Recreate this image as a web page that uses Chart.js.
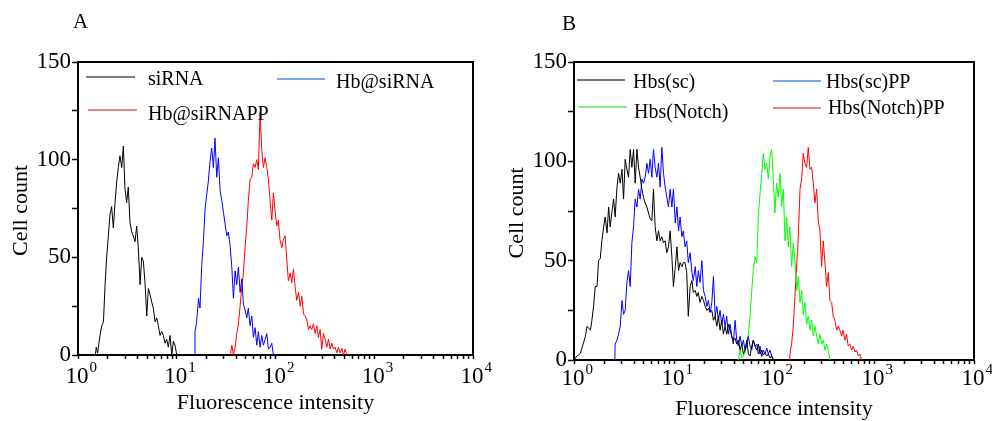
<!DOCTYPE html>
<html>
<head>
<meta charset="utf-8">
<script src="https://cdn.jsdelivr.net/npm/chart.js@4.4.0/dist/chart.umd.min.js"></script>
<style>
  body { margin: 0; background: #fff; }
  #wrap { position: relative; width: 992px; height: 421px; }
  .panel { position: absolute; top: 0; width: 496px; height: 421px; }
</style>
</head>
<body>
<div id="wrap">
  <div class="panel" style="left:0"><canvas id="chartA" width="496" height="421"></canvas></div>
  <div class="panel" style="left:496px"><canvas id="chartB" width="496" height="421"></canvas></div>
</div>
<script>
// axis text
var xTitle = "Fluorescence intensity";
var yTitle = "Cell count";
var decadeExp = ["0", "1", "2", "3", "4"];   // x tick labels: 10^0 .. 10^4

// ---- panel A ----
var aSiRNA_x = [1.50,1.53,1.58,1.67,1.74,1.81,1.88,1.95,2.03,2.11,2.19,2.28,2.37,2.47,2.56,2.66,2.77,2.88,2.99,3.11,3.23,3.36,3.50,3.63,3.78,3.93,4.08,4.25,4.42,4.59,4.77,4.97,5.16,5.36,5.58,5.79,6.03,6.27,6.51,6.77,7.05,7.32,7.61,7.92,8.22,8.55,8.90,9.24,9.61,10.0];
var aSiRNA_y = [0,4,1,10,15,17,36,50,61,72,76,65,78,89,96,102,96,107,85,78,86,68,63,61,58,66,55,36,50,48,37,20,34,31,27,24,17,19,15,10,12,10,6,8,4,10,0,7,5,0];

var aHb_x = [15.2,15.3,15.9,16.6,17.2,17.9,18.6,19.4,20.1,20.9,21.7,22.6,23.5,24.4,25.4,26.4,27.5,28.6,29.7,30.9,32.1,33.3,34.7,36.1,37.5,39.0,40.5,42.1,43.8,45.6,47.3,49.2,51.2,53.1,55.3,57.5,59.7,62.1,64.6,67.1,69.8,72.6,75.4,78.5,81.6,84.8,88.2,91.7,95.2];
var aHb_y = [0,12,17,29,24,46,58,75,82,89,99,106,96,111,91,101,84,79,73,67,61,63,56,45,29,43,36,45,32,39,26,23,19,24,15,20,9,14,5,12,4,10,5,8,11,3,4,6,0];

var aHbPP_x = [35.0,36.1,37.5,39.0,40.5,42.1,43.8,45.6,47.3,49.2,51.2,53.1,55.3,57.5,59.7,62.1,64.6,67.1,69.8,72.6,75.4,78.5,81.6,84.8,88.2,91.7,95.2,99,103,107,111,116,120,125,130,135,141,146,152,158,164,171,178,185,192,200,208,216,224,233,242,252,262,272,283,294,306,318,331,344,358,372,386,402,418,434,451,470,488,507,528];
var aHbPP_y = [0,5,0,4,11,16,25,35,42,55,66,79,90,91,98,96,100,95,124,105,96,101,96,90,79,69,83,74,66,69,59,55,59,61,49,38,42,37,44,35,28,32,25,30,21,20,18,13,15,13,16,11,15,9,13,3,11,8,4,8,3,6,3,4,1,4,1,3.5,0,3,0];

// ---- panel B ----
var bSc_x = [1.00,1.03,1.07,1.11,1.16,1.20,1.25,1.30,1.35,1.40,1.46,1.51,1.57,1.63,1.70,1.76,1.83,1.90,1.98,2.05,2.14,2.22,2.30,2.40,2.49,2.58,2.69,2.79,2.90,3.02,3.13,3.25,3.38,3.51,3.65,3.79,3.94,4.09,4.26,4.42,4.59,4.78,4.95,5.15,5.36,5.56,5.78,6.01,6.23,6.48,6.74,7.00,7.27,7.56,7.85,8.16,8.48,8.80,9.15,9.52,9.87,10.3,10.7,11.1,11.5,12.0,12.4,12.9,13.4,13.9,14.5,15.1,15.6,16.3,16.9,17.5,18.2,19.0,19.7,20.5,21.3,22.1,23.0,23.9,24.8,25.8,26.8,27.8,28.9,30.0,31.2,32.4,33.7,35.0,36.4,37.8,39.2,40.8,42.4,44.0,45.8,47.6,49.4,51.3,53.4,55.4,57.6,59.9,62.1,64.6,67.2,69.7,72.5,75.4,78.2,81.3,84.6,87.7,91.2,94.8,98.4];
var bSc_y = [0,1,2,2.5,3.4,6,9,12,17,16,15,20,27,37,37,50,51,60,67,72,64,77,67,75,81,72,87,94,89,96,81,101,96,92,106,97,106,89,106,97,92,86,82,79,77,74,71,70,86,67,60,65,60,62,59,60,54,57,65,52,37,47,57,45,49,47,49,49,44,22,37,40,34,35,32,34,29,32,30,27,25,26,24,25,20,22,17,22,15,20,13,17,13,18,15,12,10,11,8,10,5,8,3,5,10,3,2,7,10,7,5,8,3,5,2.5,3.4,2,3,1,2,0];

var bScPP_x = [2.56,2.58,2.69,2.79,2.90,3.02,3.13,3.25,3.38,3.51,3.65,3.79,3.94,4.09,4.26,4.42,4.59,4.78,4.95,5.15,5.36,5.56,5.78,6.01,6.23,6.48,6.74,7.00,7.27,7.56,7.85,8.16,8.48,8.80,9.15,9.52,9.87,10.3,10.7,11.1,11.5,12.0,12.4,12.9,13.4,13.9,14.5,15.1,15.6,16.3,16.9,17.5,18.2,19.0,19.7,20.5,21.3,22.1,23.0,23.9,24.8,25.8,26.8,27.8,28.9,30.0,31.2,32.4,33.7,35.0,36.4,37.8,39.2,40.8,42.4,44.0,45.8,47.6,49.4,51.3,53.4,55.4,57.6,59.9,62.1,64.6,67.2,69.7,72.5,75.4,78.2,81.3,84.6,87.7,91.2,94.8,98.4];
var bScPP_y = [0,8,10,13,17,30,23,25,39,45,37,59,67,81,77,86,81,91,89,92,99,94,101,92,106,97,92,99,87,107,94,87,82,77,86,77,86,69,77,65,72,62,65,57,60,49,54,44,40,47,37,45,39,50,35,32,27,30,24,29,42,22,27,20,25,18,23,17,22,13,18,12,8,20,10,7,12,7,10,5,8,12,7,5,10,7,8,3,7,1.7,5,3,6,3,5,2,0];

var bNotch_x = [44.0,45.8,47.6,49.4,51.3,53.4,55.4,57.6,59.9,62.1,64.6,67.2,69.7,72.5,75.4,78.2,81.3,84.6,87.7,91.2,94.8,98.4,102,106,110,115,119,124,129,134,139,144,150,156,162,169,175,182,189,196,204,212,220,229,238,247,257,267,277,288,299,311,323,336,349,362];
var bNotch_y = [0,5,1,2,4,7,13,22,35,45,52,49,72,84,94,104,96,99,91,102,106,91,74,89,82,94,77,86,60,72,57,67,47,59,50,35,42,29,35,23,29,18,22,15,20,12,17,12,8,13,8,10,5,8,5,0];

var bNotchPP_x = [143,146,150,156,162,169,172,175,182,189,196,204,212,220,229,238,247,257,267,277,288,299,311,323,336,349,362,377,391,406,423,439,456,474,492,511,532,552,574,597,620,644,670,695,722,751];
var bNotchPP_y = [0,5,8,17,32,49,54,62,86,91,104,99,97,107,96,97,89,79,86,70,65,47,60,49,37,44,30,29,22,20,15,17,15,12,15,10,13,7,8,5,7,4,5,2,3,0];

var serif = '"Liberation Serif", "Times New Roman", serif';

function pts(xs, ys) {
  return xs.map(function (x, i) { return { x: x, y: ys[i] }; });
}

function series(label, xs, ys, color) {
  return {
    label: label,
    data: pts(xs, ys),
    borderColor: color,
    borderWidth: 1,
    pointRadius: 0,
    tension: 0,
    fill: false
  };
}

// frame, x decade labels, titles, panel letter and legend
var panelDecor = {
  id: 'panelDecor',
  afterDraw: function (chart, args, o) {
    var ctx = chart.ctx, a = chart.chartArea, xs = chart.scales.x;
    ctx.save();
    ctx.strokeStyle = '#000';
    ctx.lineWidth = 2;
    ctx.beginPath();
    ctx.moveTo(a.left - 1, a.top);
    ctx.lineTo(a.right, a.top);
    ctx.lineTo(a.right, a.bottom + 1);
    ctx.stroke();

    ctx.fillStyle = '#000';
    ctx.textBaseline = 'alphabetic';
    decadeExp.forEach(function (e) {
      var px = xs.getPixelForValue(Math.pow(10, Number(e)));
      ctx.font = '23px ' + serif;
      ctx.textAlign = 'center';
      var w = ctx.measureText('10').width;
      ctx.fillText('10', px - 1, a.bottom + o.tickBase);
      ctx.font = '15px ' + serif;
      ctx.textAlign = 'left';
      ctx.fillText(e, px + w / 2, a.bottom + o.tickBase - 11);
    });

    ctx.font = '22px ' + serif;
    ctx.textAlign = 'center';
    ctx.fillText(xTitle, (a.left + a.right) / 2, o.xTitleY);
    ctx.save();
    ctx.translate(o.yTitleX, (a.top + a.bottom) / 2 + 2);
    ctx.rotate(-Math.PI / 2);
    ctx.textBaseline = 'middle';
    ctx.fillText(yTitle, 0, 0);
    ctx.restore();

    ctx.font = '21px ' + serif;
    ctx.textAlign = 'left';
    ctx.fillText(o.letter, o.letterX, o.letterY);

    ctx.font = '20px ' + serif;
    ctx.textBaseline = 'middle';
    o.legend.forEach(function (item, i) {
      ctx.strokeStyle = item.color;
      ctx.lineWidth = 1.5;
      ctx.beginPath();
      ctx.moveTo(item.line[0], item.line[2]);
      ctx.lineTo(item.line[1], item.line[2]);
      ctx.stroke();
      ctx.fillText(chart.data.datasets[i].label, item.text[0], item.text[1]);
    });
    ctx.restore();
  }
};

function makeChart(id, datasets, rightPad, xHeight, decor) {
  return new Chart(document.getElementById(id), {
    type: 'line',
    data: { datasets: datasets },
    plugins: [panelDecor],
    options: {
      responsive: false,
      animation: false,
      layout: { padding: { top: 62, right: rightPad, left: 0, bottom: 0 } },
      plugins: { legend: { display: false }, tooltip: { enabled: false }, panelDecor: decor },
      scales: {
        x: {
          type: 'logarithmic',
          min: 1,
          max: 10000,
          afterBuildTicks: function (s) {
            var t = [];
            for (var e = 0; e < 4; e++)
              for (var m = 1; m < 10; m++) t.push({ value: m * Math.pow(10, e), major: m === 1 });
            t.push({ value: 10000, major: true });
            s.ticks = t;
          },
          afterFit: function (s) { s.height = xHeight; },
          ticks: { display: false },
          grid: { drawOnChartArea: false, drawTicks: true, tickLength: 4, tickWidth: 1.5, tickColor: '#000' },
          border: { display: true, color: '#000', width: 2 }
        },
        y: {
          min: 0,
          max: 150,
          afterFit: function (s) { s.width = 78; },
          ticks: {
            stepSize: 25,
            padding: 1,
            color: '#000',
            font: { family: serif, size: 23 },
            callback: function (v) { return v % 50 === 0 ? String(v) : ''; }
          },
          grid: { drawOnChartArea: false, drawTicks: true, tickLength: 6, tickWidth: 1.5, tickColor: '#000' },
          border: { display: true, color: '#000', width: 2 }
        }
      }
    }
  });
}

makeChart('chartA', [
  series('siRNA', aSiRNA_x, aSiRNA_y, '#000000'),
  series('Hb@siRNA', aHb_x, aHb_y, '#0000ff'),
  series('Hb@siRNAPP', aHbPP_x, aHbPP_y, '#ff0000')
], 23, 66, {
  tickBase: 28, xTitleY: 409, yTitleX: 21, letter: 'A', letterX: 73, letterY: 28,
  legend: [
    { color: '#555555', line: [86, 135, 77], text: [148, 80] },
    { color: '#4a8fd6', line: [277, 325, 79], text: [336, 83] },
    { color: '#f05a5a', line: [88, 137, 110], text: [148, 115] }
  ]
});

makeChart('chartB', [
  series('Hbs(sc)', bSc_x, bSc_y, '#000000'),
  series('Hbs(sc)PP', bScPP_x, bScPP_y, '#0000ff'),
  series('Hbs(Notch)', bNotch_x, bNotch_y, '#00ff00'),
  series('Hbs(Notch)PP', bNotchPP_x, bNotchPP_y, '#ff0000')
], 18, 61, {
  tickBase: 25, xTitleY: 415, yTitleX: 21, letter: 'B', letterX: 66, letterY: 30,
  legend: [
    { color: '#444444', line: [81, 129, 80], text: [137, 83] },
    { color: '#4a8fd6', line: [277, 325, 81], text: [330, 83] },
    { color: '#5ee85e', line: [82, 131, 107], text: [138, 113] },
    { color: '#f05a5a', line: [277, 325, 108], text: [332, 109] }
  ]
});
</script>
</body>
</html>
